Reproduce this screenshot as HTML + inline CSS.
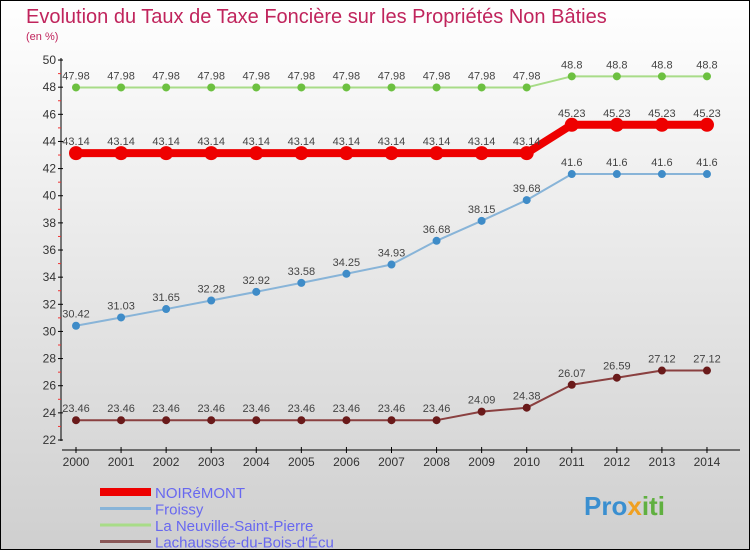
<!DOCTYPE html>
<html><head><meta charset="utf-8"><style>
body{margin:0}
svg{display:block;font-family:"Liberation Sans",sans-serif}
</style></head><body>
<svg id="c" width="750" height="550" xmlns="http://www.w3.org/2000/svg">
<defs><linearGradient id="bg" x1="0" y1="0" x2="0" y2="1"><stop offset="0" stop-color="#ffffff"/><stop offset="1" stop-color="#cfcfcf"/></linearGradient></defs>
<rect x="0.5" y="0.5" width="749" height="549" fill="url(#bg)" stroke="#000"/>
<text x="26" y="23" font-size="20" fill="#c0245c">Evolution du Taux de Taxe Foncière sur les Propriétés Non Bâties</text>
<text x="26" y="40" font-size="11" fill="#c0245c">(en %)</text>
<g id="axes"></g>
<g id="series"></g>
<g id="legend"></g>
<text x="584" y="515" font-size="26" font-weight="bold" fill="#3a8fd0">Pro<tspan fill="#f0a020">x</tspan><tspan fill="#60b040">iti</tspan></text>
</svg>
<script>
const years=[2000,2001,2002,2003,2004,2005,2006,2007,2008,2009,2010,2011,2012,2013,2014];
const yTicks=[22,24,26,28,30,32,34,36,38,40,42,44,46,48,50];
const noiremont=[43.14,43.14,43.14,43.14,43.14,43.14,43.14,43.14,43.14,43.14,43.14,45.23,45.23,45.23,45.23];
const froissy=[30.42,31.03,31.65,32.28,32.92,33.58,34.25,34.93,36.68,38.15,39.68,41.6,41.6,41.6,41.6];
const neuville=[47.98,47.98,47.98,47.98,47.98,47.98,47.98,47.98,47.98,47.98,47.98,48.8,48.8,48.8,48.8];
const lachaussee=[23.46,23.46,23.46,23.46,23.46,23.46,23.46,23.46,23.46,24.09,24.38,26.07,26.59,27.12,27.12];
const seriesNames=["NOIRéMONT","Froissy","La Neuville-Saint-Pierre","Lachaussée-du-Bois-d'Écu"];
const NS="http://www.w3.org/2000/svg";
const X=i=>76+i*45.07;
const Y=v=>440-(v-22)*13.57;
function el(t,a,p){const e=document.createElementNS(NS,t);for(const k in a)e.setAttribute(k,a[k]);p.appendChild(e);return e;}
const ax=document.getElementById('axes');
let l=el('line',{x1:61,y1:58,x2:61,y2:441,stroke:'#000'},ax);


l=el('line',{x1:62,y1:450,x2:740,y2:450,stroke:'#000'},ax);


yTicks.forEach(v=>{
  el('line',{x1:58,y1:Y(v),x2:63,y2:Y(v),stroke:'#000'},ax);
  if(v<50)el('line',{x1:58,y1:Y(v+1),x2:61,y2:Y(v+1),stroke:'#e33'},ax);
  const t=el('text',{x:56,y:Y(v)+4,'font-size':12,'text-anchor':'end',fill:'#333'},ax);
  t.textContent=v;
  
  
});
years.forEach((yr,i)=>{
  el('line',{x1:X(i),y1:447,x2:X(i),y2:453,stroke:'#000'},ax);
  const t=el('text',{x:X(i),y:466,'font-size':12,'text-anchor':'middle',fill:'#333'},ax);
  t.textContent=yr;
  
  
});
const sg=document.getElementById('series');
function draw(vals,color,w,r,dot,name){
  const g=el('g',{},sg);
  
  
  const p=el('polyline',{points:vals.map((v,i)=>X(i)+','+Y(v)).join(' '),fill:'none',stroke:color,'stroke-width':w,'stroke-linejoin':'round'},g);
  
  
  vals.forEach((v,i)=>{
    const c=el('circle',{cx:X(i),cy:Y(v),r:r,fill:dot},g);
    
    
    const t=el('text',{x:X(i),y:Y(v)-8,'font-size':11,'text-anchor':'middle',fill:'#444'},g);
    t.textContent=v;
    
    
  });
}
draw(neuville,'#a8dc88',2,4,'#6cc040','neuville');
draw(noiremont,'#ee0000',8,7,'#ee0000','noiremont');
draw(froissy,'#88b4d8',2,4,'#3f8cc8','froissy');
draw(lachaussee,'#8a4040',2,4,'#6a1a1a','lachaussee');
const lg=document.getElementById('legend');
const lc=['#ee0000','#88b4d8','#a8dc88','#8a5858'],lw=[8,3,3,3];
seriesNames.forEach((n,i)=>{
  const y=492+i*16.5;
  const s=el('line',{x1:100,y1:y,x2:151,y2:y,stroke:lc[i],'stroke-width':lw[i]},lg);
  
  
  const t=el('text',{x:155,y:y+6,'font-size':15,fill:'#6868f0'},lg);
  t.textContent=n;
  
  
});
</script>
</body></html>
